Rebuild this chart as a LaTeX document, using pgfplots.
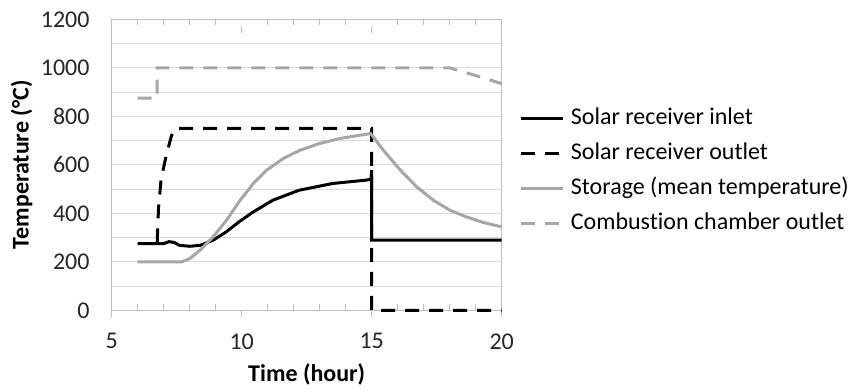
\documentclass[border=0pt]{standalone}
\usepackage{pgfplots}
\pgfplotsset{compat=1.18}
\usepackage{fontspec}
\setmainfont{Carlito}[Ligatures={NoCommon}]
\definecolor{sgray}{RGB}{166,166,166}
\definecolor{gridc}{RGB}{217,217,217}
\definecolor{axc}{RGB}{190,190,190}
\begin{document}
\begin{tikzpicture}
\begin{axis}[
  scale only axis, width=390pt, height=291pt,
  xmin=5, xmax=20, ymin=0, ymax=1200,
  xtick={5,10,15,20}, minor xtick={6,7,8,9,11,12,13,14,16,17,18,19},
  ytick={0,200,...,1200}, minor ytick={100,300,...,1100},
  ymajorgrids, yminorgrids,
  major grid style={draw=gridc, line width=1pt},
  minor grid style={draw=gridc, line width=1pt},
  axis line style={draw=axc, line width=1pt},
  tick style={draw=axc, line width=1pt},
  ytick style={draw=none},
  xtick align=inside, major tick length=7pt, minor tick length=6pt,
  major x tick style={yshift=-7pt},
  /pgf/number format/assume math mode=true,
  /pgf/number format/1000 sep={},
  ticklabel style={font=\fontsize{24}{28}\selectfont, text=black!85},
  yticklabel style={anchor=east, inner sep=0pt, xshift=-22pt},
  xticklabel style={anchor=center, inner sep=0pt, yshift=-31pt},
  xlabel={\textbf{Time (hour)}}, ylabel={\textbf{Temperature (°C)}},
  label style={font=\fontsize{24}{28}\selectfont},
  xlabel style={at={(axis description cs:0.5,-0.22)}, anchor=center},
  ylabel style={at={(axis description cs:-0.231,0.5)}, anchor=center, rotate=0},
  legend style={at={(rel axis cs:1,0.48)}, anchor=west, xshift=18pt, draw=none, fill=none,
    font=\fontsize{24}{28}\selectfont, inner sep=0pt, row sep=12pt,
    nodes={inner sep=0pt, text height=18pt, text depth=5pt},
    /tikz/every odd column/.append style={column sep=6pt}},
  legend cell align=left,
  legend image code/.code={\draw[#1] (0pt,0pt) -- (42pt,0pt);},
  clip=false,
]
\coordinate (o) at (rel axis cs:0,0);
\addplot[black, line width=3pt] coordinates {
(6,275) (7,275) (7.2,283) (7.4,280) (7.6,268) (8.0,264) (8.4,268) (8.9,289) (9.4,323) (9.9,365) (10.45,406) (11.2,454) (12.2,495) (13.5,523) (14.8,537) (14.97,540) (15,578) (15,289) (20,289)};
\addlegendentry{Solar receiver inlet}
\addplot[black, line width=3pt, dash pattern=on 14pt off 10pt] coordinates {
(6.75,280) (6.8,420) (6.9,540) (7.1,640) (7.3,720) (7.45,750) (15,750) (15,0) (20,0)};
\addlegendentry{Solar receiver outlet}
\addplot[sgray, line width=3pt] coordinates {
(6,200) (7.7,200) (8.0,213) (8.4,248) (8.9,303) (9.42,372) (9.94,454) (10.45,523) (10.96,578) (11.6,626) (12.24,660) (13.0,688) (13.8,709) (14.55,722) (14.96,729) (15.45,660) (16.1,578) (16.73,509) (17.37,454) (18.0,413) (18.65,385) (19.3,362) (20,344)};
\addlegendentry{Storage (mean temperature)}
\addplot[sgray, line width=3pt, dash pattern=on 14pt off 10pt] coordinates {
(6,875) (6.75,875) (6.75,1000) (18,1000) (19,968) (20,935)};
\addlegendentry{Combustion chamber outlet}
\end{axis}
\pgfresetboundingbox
\path ([shift={(-111.7pt,-81pt)}]o) rectangle ([shift={(740.3pt,310.3pt)}]o);
\end{tikzpicture}
\end{document}
